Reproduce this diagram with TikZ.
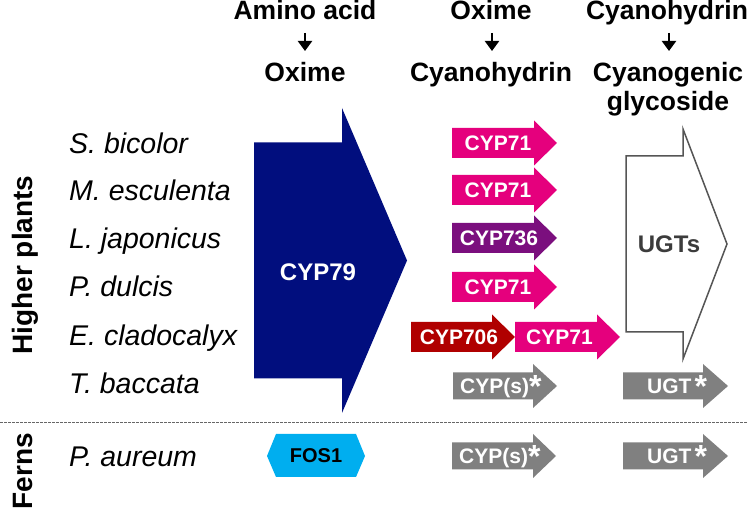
\documentclass[tikz,border=0pt]{standalone}
\usepackage{fontspec}
\setmainfont{Liberation Sans}
\usetikzlibrary{arrows.meta}
\definecolor{navy}{RGB}{1,14,126}
\definecolor{cyppink}{RGB}{229,0,125}
\definecolor{cyppurple}{RGB}{123,15,126}
\definecolor{cypred}{RGB}{176,0,0}
\definecolor{cypgray}{RGB}{128,128,128}
\definecolor{fosblue}{RGB}{0,174,239}
\definecolor{ugtline}{RGB}{85,85,85}
\definecolor{ugttext}{RGB}{60,60,60}
\newcommand\blockarrow[7]{\path[#1] (#2,#5-#6) -- (#3,#5-#6) -- (#3,#5-#7) -- (#4,#5) -- (#3,#5+#7) -- (#3,#5+#6) -- (#2,#5+#6) -- cycle;}
\newcommand\bigast{\raisebox{-4pt}{\fontsize{32}{32}\selectfont *}}
\begin{document}
\begin{tikzpicture}[x=1pt,y=-1pt,
  hdr/.style={font=\fontsize{26.5}{30}\selectfont\bfseries, inner sep=0pt, anchor=base},
  sp/.style={font=\fontsize{28.5}{30}\selectfont\itshape, inner sep=0pt, anchor=base west},
  grp/.style={font=\fontsize{28}{30}\selectfont\bfseries, inner sep=0pt, anchor=base, rotate=90},
  enz/.style={font=\fontsize{21}{24}\selectfont\bfseries, text=white, inner sep=0pt},
  gry/.style={font=\fontsize{21}{24}\selectfont\bfseries, text=white, inner sep=0pt, anchor=base west},
  hdarrow/.style={line width=2.2pt, -{Triangle[width=14pt,length=10pt]}},
  pinkar/.style={fill=cyppink},
  grayar/.style={fill=cypgray},
]
\useasboundingbox (0,0) rectangle (748,510);

% headers
\node[hdr] (h1a) at (305,20) {Amino acid};
\node[hdr] (h1b) at (305,82) {Oxime};
\node[hdr] (h2a) at (491,20) {Oxime};
\node[hdr] (h2b) at (491,82) {Cyanohydrin};
\node[hdr] (h3a) at (667,20) {Cyanohydrin};
\node[hdr] (h3b) at (668,82) {Cyanogenic};
\node[hdr] (h3c) at (668,111) {glycoside};
\coordinate (c1s) at (305,33); \coordinate (c1e) at (305,51);
\coordinate (c2s) at (492,33); \coordinate (c2e) at (492,51);
\coordinate (c3s) at (669,33); \coordinate (c3e) at (669,51);
\draw[hdarrow] (c1s) -- (c1e);
\draw[hdarrow] (c2s) -- (c2e);
\draw[hdarrow] (c3s) -- (c3e);

% group labels
\node[grp] (gh) at (32,265) {Higher plants};
\node[grp] (gf) at (32,471) {Ferns};

% species
\node[sp] (s1) at (69,154) {S. bicolor};
\node[sp] (s2) at (69,201) {M. esculenta};
\node[sp] (s3) at (69,249) {L. japonicus};
\node[sp] (s4) at (69,297) {P. dulcis};
\node[sp] (s5) at (69,346) {E. cladocalyx};
\node[sp] (s6) at (69,394) {T. baccata};
\node[sp] (s7) at (69,466.5) {P. aureum};

% separator
\coordinate (sepL) at (0,422); \coordinate (sepR) at (748,422);
\draw[color=black!60, line width=0.8pt, dash pattern=on 2.5pt off 1.5pt] (sepL) -- (sepR);

% CYP79
\blockarrow{fill=navy}{254}{342}{407}{260.5}{118}{152.5}
\node[font=\fontsize{24}{26}\selectfont\bfseries, text=white, inner sep=0pt] (cyp79) at (318,272) {CYP79};

% UGTs outlined
\blockarrow{draw=ugtline, line width=1.5pt, fill=white}{626}{683}{727}{244}{88}{115}
\node[font=\fontsize{24}{26}\selectfont\bfseries, text=ugttext, inner sep=0pt] (ugts) at (669,244) {UGTs};

% second-step arrows
\blockarrow{pinkar}{452}{534}{557}{143}{15}{22.5}
\node[enz] (e1) at (498,143) {CYP71};
\blockarrow{pinkar}{452}{534}{557}{190}{15}{22.5}
\node[enz] (e2) at (498,190) {CYP71};
\blockarrow{fill=cyppurple}{452}{534}{557}{238}{15}{22.5}
\node[enz] (e3) at (499,238) {CYP736};
\blockarrow{pinkar}{452}{534}{557}{287}{15}{22.5}
\node[enz] (e4) at (498,287) {CYP71};
\blockarrow{fill=cypred}{411}{492}{515}{337}{15}{22.5}
\node[enz] (e5a) at (459,337) {CYP706};
\blockarrow{pinkar}{515}{597}{620}{337}{15}{22.5}
\node[enz] (e5b) at (559.5,337) {CYP71};

% gray arrows
\blockarrow{grayar}{453}{533}{557}{386}{13.5}{22}
\node[gry] (g1) at (460,393.5) {CYP(s)\bigast};
\blockarrow{grayar}{623}{703}{728}{386}{13.5}{22}
\node[gry] (g2) at (647,393.5) {UGT\hspace{3pt}\bigast};
\blockarrow{grayar}{452}{533}{556}{456}{13.5}{22}
\node[gry] (g3) at (459,463.5) {CYP(s)\bigast};
\blockarrow{grayar}{623}{703}{728}{456}{13.5}{22}
\node[gry] (g4) at (647,463.5) {UGT\hspace{3pt}\bigast};

% FOS1
\path[fill=fosblue] (267,456) -- (276,434) -- (356,434) -- (365,456) -- (356,477) -- (276,477) -- cycle;
\node[font=\fontsize{20}{22}\selectfont\bfseries, inner sep=0pt] (fos) at (316,456) {FOS1};
\end{tikzpicture}
\end{document}
